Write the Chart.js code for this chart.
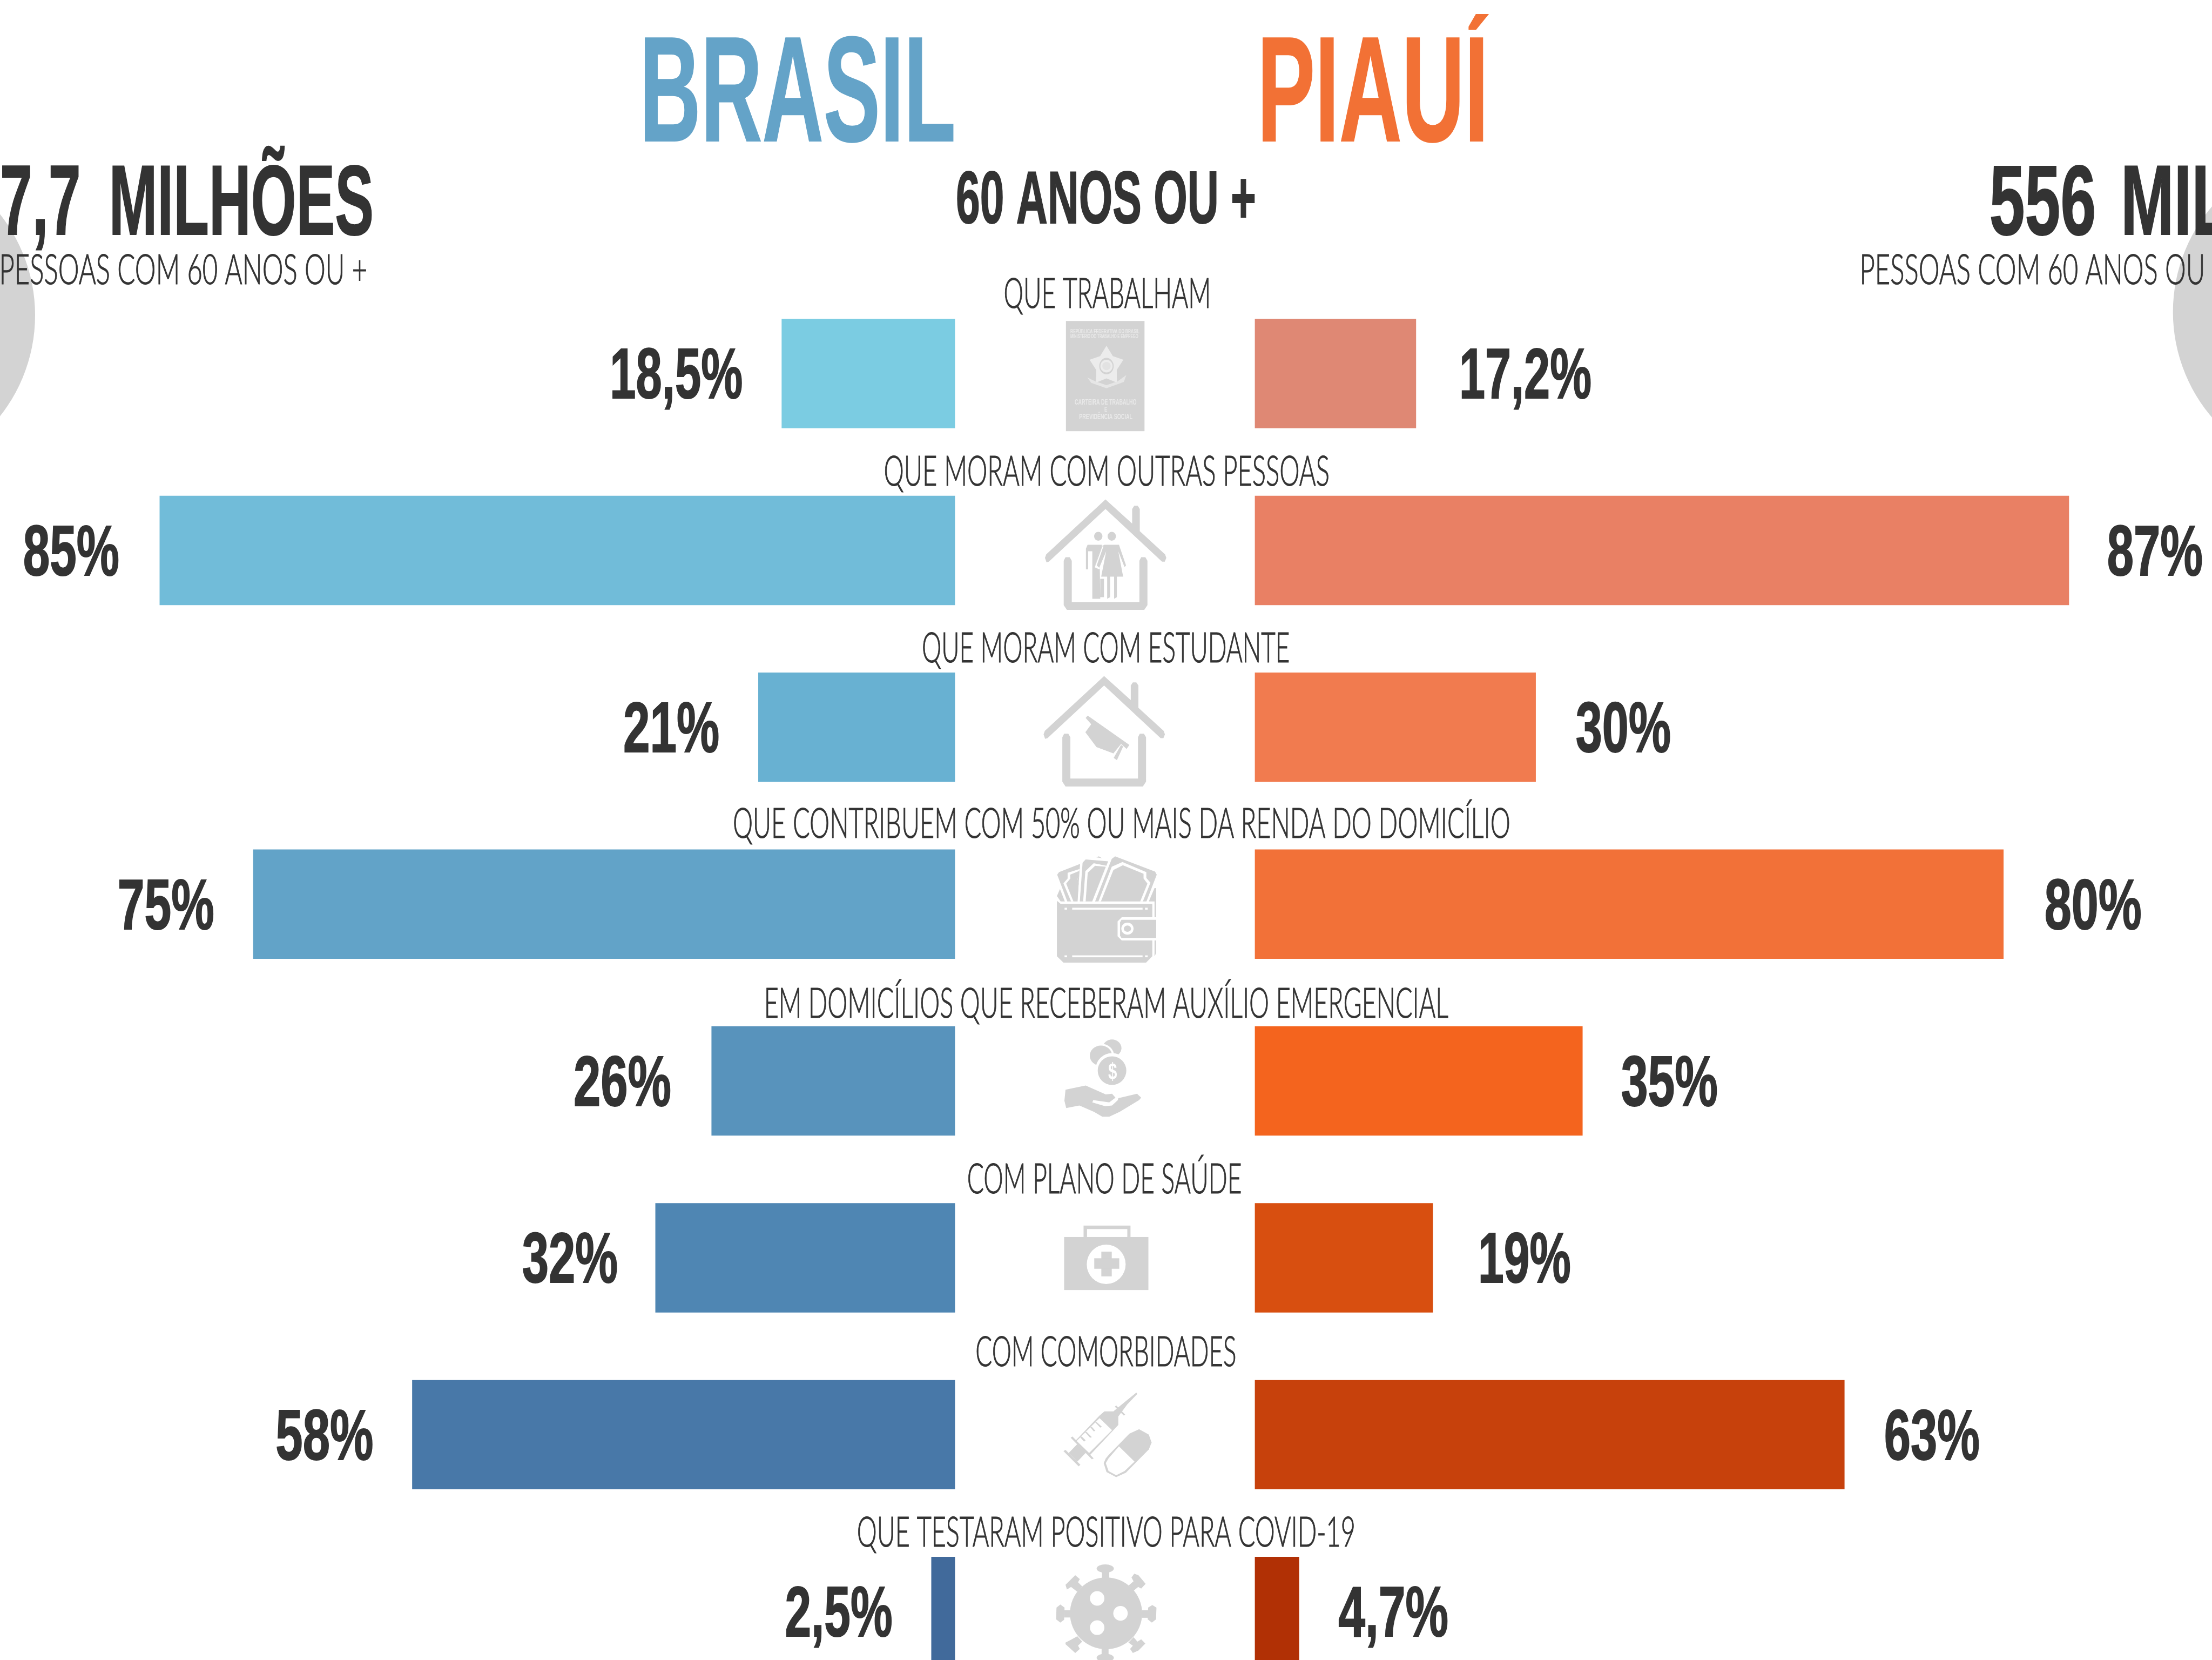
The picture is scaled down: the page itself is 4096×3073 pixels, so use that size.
<!DOCTYPE html>
<html lang="pt">
<head>
<meta charset="utf-8">
<title>Brasil x Piauí — 60 anos ou +</title>
<script src="https://cdn.jsdelivr.net/npm/chart.js@4/dist/chart.umd.min.js"></script>
<style>
html,body{margin:0;padding:0;background:#fff;width:4096px;height:3073px;overflow:hidden}
canvas{display:block}
</style>
</head>
<body>
<canvas id="c" width="4096" height="3073"></canvas>
<script>
const categories = ["QUE TRABALHAM","QUE MORAM COM OUTRAS PESSOAS","QUE MORAM COM ESTUDANTE","QUE CONTRIBUEM COM 50% OU MAIS DA RENDA DO DOMICÍLIO","EM DOMICÍLIOS QUE RECEBERAM AUXÍLIO EMERGENCIAL","COM PLANO DE SAÚDE","COM COMORBIDADES","QUE TESTARAM POSITIVO PARA COVID-19"];
const brasilValues = [18.5,85,21,75,26,32,58,2.5];
const piauiValues = [17.2,87,30,80,35,19,63,4.7];
const brasilColors = ["#7bcce2","#71bcd9","#68b1d2","#62a3c8","#5893bc","#4f86b3","#4878a8","#416a9b"];
const piauiColors = ["#df8874","#e98064","#f17b4f","#f27138","#f4641e","#d84f10","#c7410c","#b13005"];

const THIN = '300 100px "Lato","Open Sans",sans-serif';
const HEAVY = 'bold 100px "Liberation Sans Narrow","Liberation Sans",sans-serif';
const DARK = '#333333', GREY = '#d3d3d3';
const K = 4096/1568;

const capRatio = {};
function fitText(ctx,text,x0,x1,top,base,font,color,embolden,ws){
  ctx.save();
  ctx.font = font;
  if(!capRatio[font]) capRatio[font] = ctx.measureText('H').actualBoundingBoxAscent/100;
  const size = (base-top)/capRatio[font];
  ctx.font = font.replace('100px',size.toFixed(2)+'px');
  if(ws) ctx.wordSpacing = ws+'px';
  ctx.textBaseline='alphabetic'; ctx.textAlign='left';
  const m = ctx.measureText(text);
  const w = m.actualBoundingBoxLeft+m.actualBoundingBoxRight;
  const sx = (x1-x0)/w;
  ctx.translate(x0+m.actualBoundingBoxLeft*sx,base);
  ctx.scale(sx,1);
  ctx.fillStyle=color;
  if(embolden){ctx.strokeStyle=color;ctx.lineWidth=embolden;ctx.lineJoin='miter';ctx.strokeText(text,0,0);}
  ctx.fillText(text,0,0);
  ctx.restore();
}
function poly(ctx,pts){ctx.beginPath();pts.forEach((p,i)=>i?ctx.lineTo(p[0],p[1]):ctx.moveTo(p[0],p[1]));ctx.closePath();ctx.fill();}
function rect(ctx,x0,y0,x1,y1){ctx.fillRect(x0,y0,x1-x0,y1-y0);}
function ell(ctx,x,y,rx,ry){ctx.beginPath();ctx.ellipse(x,y,rx,ry,0,0,Math.PI*2);ctx.fill();}

function house(ctx){
  ctx.fillStyle=GREY;
  poly(ctx,[[793,642],[985,718],[985,672],[1000,662],[1025,662],[1040,672],[1040,742],[1222,815],[1231,826],[1220,838],[1200,838],[793,672],[385,838],[368,840],[357,826],[366,815]]);
  poly(ctx,[[492,835],[505,824],[535,824],[550,835],[550,965],[1037,965],[1037,835],[1050,824],[1080,824],[1095,835],[1095,975],[1072,990],[515,990],[492,975]]);
}
function icons(ctx){
  const xm=0.2571, ym=0.5878, ox=1843.2;
  // carteira de trabalho
  ctx.save();
  ctx.transform(xm,0,0,ym,ox,547.2);
  ctx.fillStyle=GREY; rect(ctx,508,80,1074,427);
  ctx.fillStyle='#ececec';
  const star=[];for(let i=0;i<10;i++){const a=-Math.PI/2+i*Math.PI/5,r=i%2?78:128;star.push([800+r*Math.cos(a),222+r*0.5*Math.sin(a)]);}
  poly(ctx,star);
  ctx.fillStyle=GREY; ell(ctx,800,222,52,26);
  ctx.fillStyle='#ececec'; ell(ctx,800,222,44,20);
  ctx.fillStyle='#e2e2e2'; ell(ctx,800,222,30,13);
  ctx.fillStyle='#e6e6e6'; poly(ctx,[[662,258],[720,270],[800,282],[880,270],[943,250],[925,272],[800,292],[690,275]]);
  ctx.restore();
  const card=(t,a,b,c,d)=>fitText(ctx,t,ox+a*xm,ox+b*xm,547.2+c*ym,547.2+d*ym,'bold 100px "Liberation Sans",sans-serif','#e9e9e9');
  card('REPÚBLICA FEDERATIVA DO BRASIL',540,1038,104,118);
  card('MINISTÉRIO DO TRABALHO E EMPREGO',540,1030,121,134);
  card('CARTEIRA DE TRABALHO',571,1017,325,343);
  card('E',785,805,351,366);
  card('PREVIDÊNCIA SOCIAL',603,988,372,389);

  // casa com pessoas
  ctx.save();
  ctx.transform(xm,0,0,ym,ox,547.2);
  house(ctx);
  ctx.fillStyle=GREY;
  ell(ctx,741,758,30,14); ell(ctx,838,758,30,14);
  poly(ctx,[[652,862],[652,797],[664,785],[768,785],[722,845],[718,855],[752,860],[755,950],[782,950],[782,892],[755,892],[755,955],[726,955],[698,955],[698,805],[668,805],[668,862]]);
  poly(ctx,[[785,785],[890,785],[941,850],[930,855],[885,805],[920,885],[875,885],[875,950],[855,955],[855,885],[826,885],[826,950],[805,955],[805,885],[762,885],[798,805],[745,860],[720,855],[720,848],[762,790]]);
  ctx.fillStyle='#fff';
  poly(ctx,[[770,790],[778,790],[730,850],[750,858],[748,862],[716,856]]);
  // casa com estudante
  ctx.translate(-10,556);
  house(ctx);
  ctx.translate(10,-556);
  ctx.fillStyle=GREY;
  poly(ctx,[[648,1375],[690,1350],[650,1330],[665,1323],[965,1415],[945,1428],[905,1412],[850,1442],[728,1422]]);
  poly(ctx,[[852,1456],[905,1415],[920,1420],[875,1463]]);
  ctx.restore();

  // carteira (dinheiro)
  ctx.save();
  ctx.transform(xm,0,0,ym,ox,1526.4);
  ctx.fillStyle=GREY;
  poly(ctx,[[445,158],[458,150],[610,124],[590,242],[518,242]]);
  poly(ctx,[[608,242],[628,120],[650,110],[812,116],[697,242]]);
  poly(ctx,[[718,242],[838,108],[862,100],[1150,148],[1162,158],[1088,242]]);
  poly(ctx,[[725,103],[745,100],[768,106]]);
  ctx.fillStyle='#fff';
  poly(ctx,[[742,242],[838,133],[915,118],[1087,150],[1087,168],[1117,183],[1062,242]]);
  poly(ctx,[[632,242],[648,147],[708,122],[800,130],[697,242]]);
  poly(ctx,[[545,242],[490,185],[520,170],[520,152],[606,140],[590,180],[590,242]]);
  ctx.fillStyle=GREY;
  poly(ctx,[[760,242],[850,143],[918,128],[1067,155],[1067,170],[1095,186],[1043,242]]);
  poly(ctx,[[650,242],[665,152],[718,130],[795,133],[697,242]]);
  poly(ctx,[[562,242],[510,186],[540,170],[538,158],[604,146],[600,160],[592,172],[600,185],[592,242]]);
  poly(ctx,[[443,225],[465,203],[500,242],[470,242]]);
  poly(ctx,[[1105,242],[1146,200],[1158,200],[1158,292],[1146,292],[1146,242]]);
  poly(ctx,[[1146,365],[1158,365],[1158,405],[1146,415]]);
  poly(ctx,[[443,240],[470,250],[1130,250],[1130,292],[910,292],[880,305],[880,352],[910,365],[1130,365],[1130,415],[1085,435],[490,435],[443,415]]);
  poly(ctx,[[898,308],[908,300],[1158,300],[1158,357],[908,357],[898,350]]);
  ctx.fillStyle='#fff';
  rect(ctx,553,262,1060,268); rect(ctx,553,412,1060,418);
  rect(ctx,498,262,516,268); rect(ctx,1078,262,1097,268);
  rect(ctx,498,412,516,418); rect(ctx,1078,412,1097,418);
  ell(ctx,951,328,44,19);
  ctx.fillStyle=GREY; ell(ctx,951,328,26,10);

  // mão com moedas
  ell(ctx,840,704,68,27);
  ctx.fillStyle='#fff'; ell(ctx,760,730,96,40);
  ctx.fillStyle=GREY; ell(ctx,760,728,80,32);
  ctx.fillStyle='#fff'; ell(ctx,840,770,118,50);
  ctx.fillStyle=GREY; ell(ctx,840,775,103,45);
  poly(ctx,[[505,835],[650,822],[795,850],[840,848],[865,860],[820,875],[705,868],[698,875],[790,887],[840,885],[882,868],[885,862],[1020,848],[1050,860],[1035,868],[895,905],[820,920],[770,920],[710,905],[605,885],[510,893],[497,870]]);

  // maleta
  rect(ctx,495,1299,1102,1466);
  rect(ctx,635,1263,973,1299);
  ctx.fillStyle='#fff';
  rect(ctx,660,1274,950,1299);
  ell(ctx,798,1385,140,62);
  ctx.fillStyle=GREY;
  rect(ctx,763,1345,838,1423); rect(ctx,712,1366,892,1399);
  ctx.restore();
  fitText(ctx,'$',ox+812*xm,ox+875*xm,1526.4+752*ym,1526.4+802*ym,HEAVY,'#ffffff');

  // seringa, cápsula, vírus
  ctx.save();
  ctx.transform(xm,0,0,ym,ox,2150.2);
  ctx.fillStyle=GREY;
  poly(ctx,[[1015,728],[1022,732],[950,765],[885,803],[885,830],[680,925],[640,915],[575,880],[750,800],[785,787],[850,787],[930,758]]);
  poly(ctx,[[860,772],[870,768],[935,797],[925,800]]);
  poly(ctx,[[490,912],[505,908],[612,955],[600,960]]);
  poly(ctx,[[542,870],[555,866],[708,935],[695,938]]);
  poly(ctx,[[528,918],[590,890],[650,918],[590,945]]);
  ctx.fillStyle='#fff';
  poly(ctx,[[585,880],[750,808],[840,846],[675,918]]);
  ctx.fillStyle=GREY;
  poly(ctx,[[610,868],[622,866],[650,878],[638,882]]);
  poly(ctx,[[645,852],[658,852],[695,868],[682,870]]);
  poly(ctx,[[682,836],[695,836],[720,848],[708,850]]);
  poly(ctx,[[716,820],[728,820],[768,836],[755,838]]);
  poly(ctx,[[820,922],[965,857],[1035,843],[1105,860],[1125,885],[1105,907],[940,980],[870,994],[800,978],[780,950],[795,935]]);
  ctx.fillStyle='#fff';
  poly(ctx,[[795,950],[815,935],[890,897],[1002,945],[930,975],[870,988],[815,975]]);

  ctx.fillStyle=GREY;
  ell(ctx,797,1423,260,113);
  ctx.fillStyle='#fff';
  ell(ctx,733,1376,52,23); ell(ctx,901,1423,52,23); ell(ctx,733,1468,52,23);
  ctx.fillStyle=GREY;
  rect(ctx,768,1292,820,1314); ell(ctx,791,1282,62,13);
  rect(ctx,765,1532,815,1555); ell(ctx,791,1563,62,13);
  rect(ctx,495,1413,540,1436); poly(ctx,[[440,1405],[468,1395],[498,1405],[495,1443],[468,1452],[437,1442]]);
  rect(ctx,1055,1413,1100,1437); poly(ctx,[[1100,1405],[1130,1397],[1160,1405],[1157,1442],[1127,1452],[1097,1442]]);
  poly(ctx,[[505,1333],[575,1303],[608,1315],[595,1325],[625,1338],[590,1355],[545,1340],[515,1348]]);
  poly(ctx,[[960,1335],[995,1322],[980,1310],[1000,1298],[1030,1303],[1082,1330],[1050,1345],[1028,1340],[995,1352]]);
  poly(ctx,[[505,1515],[550,1505],[590,1495],[625,1512],[595,1525],[608,1535],[575,1548],[505,1520]]);
  poly(ctx,[[958,1515],[995,1498],[1023,1512],[1050,1505],[1080,1518],[1030,1540],[990,1548],[970,1535],[990,1525]]);
  ctx.restore();
}

// y positions and x extents of the captions and value labels, in window pixels
const captionBase=[569.5,898.7,1226,1551,1883.8,2209,2529,2862.6];
const captionX=[[712,857],[627,942],[654,914],[520,1070],[543,1027],[686,880],[692,876],[608,960]];
const leftWidth=[93,68,68,68,69,68,69,76], rightWidth=[93,68,68,69,69,65,68,79];
const leftGap=[28,29,28,28,29,27,28,28], rightGap=[31.5,27,28,29,27,33,28,27];
const pct=v=>String(v).replace('.',',')+'%';

const overlay={
  id:'overlay',
  beforeDatasetsDraw(chart){
    const ctx=chart.ctx;
    ctx.save();
    ctx.fillStyle=GREY;
    ctx.beginPath();ctx.arc(-236.5,583.6,301.5,0,Math.PI*2);ctx.fill();
    ctx.beginPath();ctx.arc(4323.7,577.5,300,0,Math.PI*2);ctx.fill();
    ctx.restore();
  },
  afterDatasetsDraw(chart){
    const ctx=chart.ctx, s=chart.scales;
    fitText(ctx,'BRASIL',1194,1767,67,261,HEAVY,'#64a3c8',2);
    ctx.save();
    ctx.beginPath();ctx.rect(2200,26,800,300);ctx.clip();
    fitText(ctx,'PIAUÍ',2338,2762,67,261,HEAVY,'#f27135',2);
    ctx.restore();
    fitText(ctx,'7,7 MILHÕES',4,688,305,434,HEAVY,DARK,2,38);
    fitText(ctx,'556 MIL',3687,4127,305,434,HEAVY,DARK,2,20);
    fitText(ctx,'60 ANOS OU +',1773,2323,317,413,HEAVY,DARK,2);
    fitText(ctx,'PESSOAS COM 60 ANOS OU +',3,678,471,526,THIN,DARK,1.2);
    fitText(ctx,'PESSOAS COM 60 ANOS OU +',3448,4123,471,526,THIN,DARK,1.2);
    categories.forEach((c,i)=>{
      fitText(ctx,c,captionX[i][0]*K+1,captionX[i][1]*K-1,captionBase[i]-56,captionBase[i],THIN,DARK,1.2);
      const y=s.y.getPixelForValue(i);
      const bx=s.xB.getPixelForValue(brasilValues[i])-leftGap[i]*K;
      const px=s.xP.getPixelForValue(piauiValues[i])+rightGap[i]*K;
      fitText(ctx,pct(brasilValues[i]),bx-leftWidth[i]*K+3,bx-1,y-46,y+46,HEAVY,DARK,2);
      fitText(ctx,pct(piauiValues[i]),px+3,px+rightWidth[i]*K-2,y-46,y+46,HEAVY,DARK,2);
    });
    icons(ctx);
  }
};

new Chart(document.getElementById('c'),{
  type:'bar',
  data:{datasets:[
    {label:'Brasil',xAxisID:'xB',yAxisID:'y',grouped:false,backgroundColor:brasilColors,
     data:brasilValues.map((v,i)=>({x:v,y:i}))},
    {label:'Piauí',xAxisID:'xP',yAxisID:'y',grouped:false,backgroundColor:piauiColors,
     data:piauiValues.map((v,i)=>({x:v,y:i}))}
  ]},
  options:{
    indexAxis:'y',responsive:false,animation:false,devicePixelRatio:1,
    barThickness:201.8,
    layout:{padding:0},
    plugins:{legend:{display:false},tooltip:{enabled:false},title:{display:false}},
    scales:{
      y:{type:'linear',offset:false,reverse:true,min:-2.1121,max:7.274,display:false},
      xB:{type:'linear',axis:'x',position:'bottom',reverse:true,min:-134.4,max:102.08,display:false},
      xP:{type:'linear',axis:'x',position:'bottom',min:-134.16,max:102.3,display:false}
    }
  },
  plugins:[overlay]
});
</script>
</body>
</html>
